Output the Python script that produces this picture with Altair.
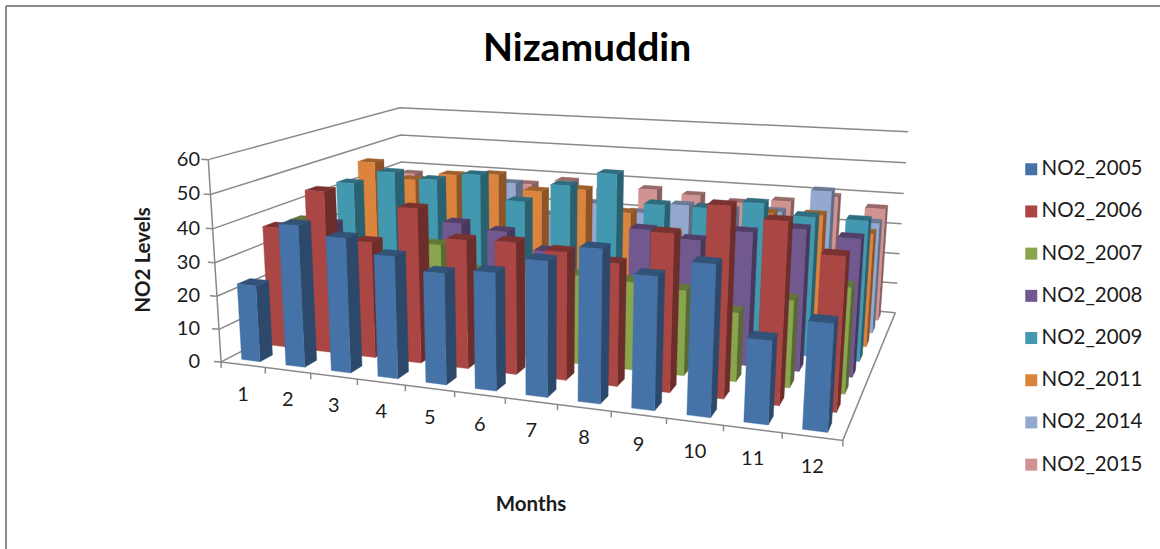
import altair as alt
import numpy as np
import pandas as pd

# NO2 readings by month, one list per monitoring year
months = list(range(1, 13))
NO2_2005 = [23, 42, 39.5, 35.5, 32, 33.5, 38, 42.5, 36.5, 41, 22.5, 28.5]
NO2_2006 = [37, 49, 35, 46, 38, 38.5, 37, 35, 44.5, 53, 50, 42]
NO2_2007 = [36, 28, 27, 32, 25, 27, 26.5, 26, 25, 20, 25, 30]
NO2_2008 = [32, 22, 32, 35.5, 34, 29, 27, 38, 36, 39.5, 41.5, 40]
NO2_2009 = [42.5, 47, 45.5, 48, 40.5, 46.5, 51, 42.5, 42.5, 45, 42, 42]
NO2_2011 = [47, 42, 44.5, 45.5, 41, 42.5, 36, 30, 31, 39, 39.5, 35]
NO2_2014 = [36, 35, 36, 40, 30, 35, 33, 36.5, 36, 36.5, 44, 35]
NO2_2015 = [38, 36, 36, 37, 39, 37, 38, 37, 35.5, 37, 39.5, 36.6]

series_names = ["NO2_2005", "NO2_2006", "NO2_2007", "NO2_2008",
                "NO2_2009", "NO2_2011", "NO2_2014", "NO2_2015"]
series_values = [NO2_2005, NO2_2006, NO2_2007, NO2_2008,
                 NO2_2009, NO2_2011, NO2_2014, NO2_2015]
series_colors = ["#4572A7", "#AA4643", "#89A54E", "#71588F",
                 "#4198AF", "#DB843D", "#93A9CF", "#D19392"]
z_ticks = [0, 10, 20, 30, 40, 50, 60]

INK = "#1c1c1c"
WALL = "#8a8a8a"
FONT = "Lato"

# Camera: solve a projective matrix from where the box corners land on the canvas.
world = [(0, 0, 0), (0, 0, 60), (0, 0, 30), (0, 8, 0), (0, 8, 60), (0, 8, 40),
         (12, 8, 0), (12, 8, 60), (12, 8, 30), (12, 0, 0)]
canvas = [(221, 360), (208, 161), (215, 262), (404, 270), (400, 107), (401, 161),
          (895, 311), (908, 133), (902, 223), (843, 442)]
rows = []
for (X, Y, Z), (u, v) in zip(world, canvas):
    rows.append([X, Y, Z, 1, 0, 0, 0, 0, -u * X, -u * Y, -u * Z, -u])
    rows.append([0, 0, 0, 0, X, Y, Z, 1, -v * X, -v * Y, -v * Z, -v])
camera = np.linalg.svd(np.array(rows, float))[2][-1].reshape(3, 4)


def project(x, y, z):
    a, b, c = camera @ np.array([x, y, z, 1.0])
    return a / c, b / c


def shade(hex_color, factor):
    rgb = [int(hex_color[i:i + 2], 16) for i in (1, 3, 5)]
    return "#" + "".join(f"{int(round(c * factor)):02x}" for c in rgb)


BAR_W, BAR_D = 0.42, 0.45
polys = []
row = 0
face_id = 0


def add_face(corners, color):
    global row, face_id
    for corner in corners + corners[:1]:
        sx, sy = project(*corner)
        polys.append({"sx": sx, "sy": sy, "face": face_id, "idx": row, "tone": color})
        row += 1
    face_id += 1


# Painter's order: rear series first, then months running towards the viewer
for s in range(len(series_names) - 1, -1, -1):
    for m, value in enumerate(series_values[s]):
        x0, x1 = m + 0.5 - BAR_W / 2, m + 0.5 + BAR_W / 2
        y0, y1 = s + 0.5 - BAR_D / 2, s + 0.5 + BAR_D / 2
        base = series_colors[s]
        add_face([(x1, y0, 0), (x1, y1, 0), (x1, y1, value), (x1, y0, value)], shade(base, 0.64))
        add_face([(x0, y0, value), (x1, y0, value), (x1, y1, value), (x0, y1, value)], shade(base, 0.72))
        add_face([(x0, y0, 0), (x1, y0, 0), (x1, y0, value), (x0, y0, value)], base)

# Frame of the box: gridlines on both walls, floor outline and axis ticks
segments = []
for z in z_ticks:
    segments.append([(0, 0, z), (0, 8, z), (12, 8, z)])
segments.append([(0, 0, 0), (0, 0, 60)])
segments.append([(0, 0, 0), (12, 0, 0), (12, 8, 0)])
wall_rows = []
for i, seg in enumerate(segments):
    for j, pt in enumerate(seg):
        sx, sy = project(*pt)
        wall_rows.append({"sx": sx, "sy": sy, "seg": i, "idx": j})
tick_rows = []
for i, m in enumerate(range(0, 13)):
    sx, sy = project(m, 0, 0)
    tick_rows += [{"sx": sx, "sy": sy, "seg": i, "idx": 0},
                  {"sx": sx, "sy": sy + 6, "seg": i, "idx": 1}]
for z in z_ticks:
    sx, sy = project(0, 0, z)
    i += 1
    tick_rows += [{"sx": sx, "sy": sy, "seg": i, "idx": 0},
                  {"sx": sx - 7, "sy": sy - 0.5, "seg": i, "idx": 1}]

month_rows = []
for m in months:
    sx, sy = project(m - 0.5, 0, 0)
    month_rows.append({"sx": sx, "sy": sy, "label": str(m)})
z_rows = []
for z in z_ticks:
    sx, sy = project(0, 0, z)
    z_rows.append({"sy": sy, "label": str(z)})

x_scale = alt.Scale(domain=[0, 1160], nice=False, zero=False)
y_scale = alt.Scale(domain=[549, 0], nice=False, zero=False)
X = alt.X("sx:Q", scale=x_scale, axis=None)
Y = alt.Y("sy:Q", scale=y_scale, axis=None)

walls = alt.Chart(pd.DataFrame(wall_rows)).mark_line(strokeWidth=1.5, color=WALL).encode(
    x=X, y=Y, detail="seg:N", order="idx:Q")
ticks = alt.Chart(pd.DataFrame(tick_rows)).mark_line(strokeWidth=1.5, color=WALL).encode(
    x=X, y=Y, detail="seg:N", order="idx:Q")
bars = alt.Chart(pd.DataFrame(polys)).mark_line(strokeWidth=0.4).encode(
    x=X, y=Y, detail="face:N", order="idx:Q",
    fill=alt.Fill("tone:N", scale=None),
    stroke=alt.Stroke("tone:N", scale=None))
month_labels = alt.Chart(pd.DataFrame(month_rows)).mark_text(
    font=FONT, fontSize=20, color=INK, dy=30).encode(x=X, y=Y, text="label:N")
z_labels = alt.Chart(pd.DataFrame(z_rows)).mark_text(
    font=FONT, fontSize=20, color=INK, align="right").encode(
    x=alt.value(200), y=Y, text="label:N")
y_title = alt.Chart(pd.DataFrame({"t": ["NO2 Levels"]})).mark_text(
    font=FONT, fontSize=20.5, fontWeight="bold", color=INK, angle=270).encode(
    x=alt.value(144), y=alt.value(260), text="t:N")
x_title = alt.Chart(pd.DataFrame({"t": ["Months"]})).mark_text(
    font=FONT, fontSize=20.5, fontWeight="bold", color=INK).encode(
    x=alt.value(531), y=alt.value(505), text="t:N")
frame_top = alt.Chart(pd.DataFrame({"k": [0]})).mark_rule(strokeWidth=2, color=WALL).encode(
    x=alt.value(6), x2=alt.value(1160), y=alt.value(6))
frame_left = alt.Chart(pd.DataFrame({"k": [0]})).mark_rule(strokeWidth=2, color=WALL).encode(
    x=alt.value(6), y=alt.value(6), y2=alt.value(549))
legend_key = alt.Chart(pd.DataFrame({"series": series_names})).mark_square(size=0, opacity=1).encode(
    x=alt.value(-20), y=alt.value(-20),
    color=alt.Color("series:N",
                    scale=alt.Scale(domain=series_names, range=series_colors),
                    legend=alt.Legend(title=None, orient="none", legendX=1021, legendY=159,
                                      symbolType="square", symbolSize=144, symbolStrokeWidth=0,
                                      labelFont=FONT, labelFontSize=20.5, labelColor=INK,
                                      labelOffset=0, rowPadding=21.2, labelLimit=200)))

chart = alt.layer(walls, bars, ticks, month_labels, z_labels, y_title, x_title,
                  frame_top, frame_left, legend_key).properties(
    width=1160, height=549,
    padding=0,
    autosize=alt.AutoSizeParams(type="none"),
    background="white",
    title=alt.TitleParams("Nizamuddin", font=FONT, fontSize=39, fontWeight="bold",
                          color="#000000", anchor="start", frame="group",
                          dx=483, dy=93),
).configure_view(stroke=None)

chart.save("out.html", embed_options={"renderer": "svg", "actions": False})
